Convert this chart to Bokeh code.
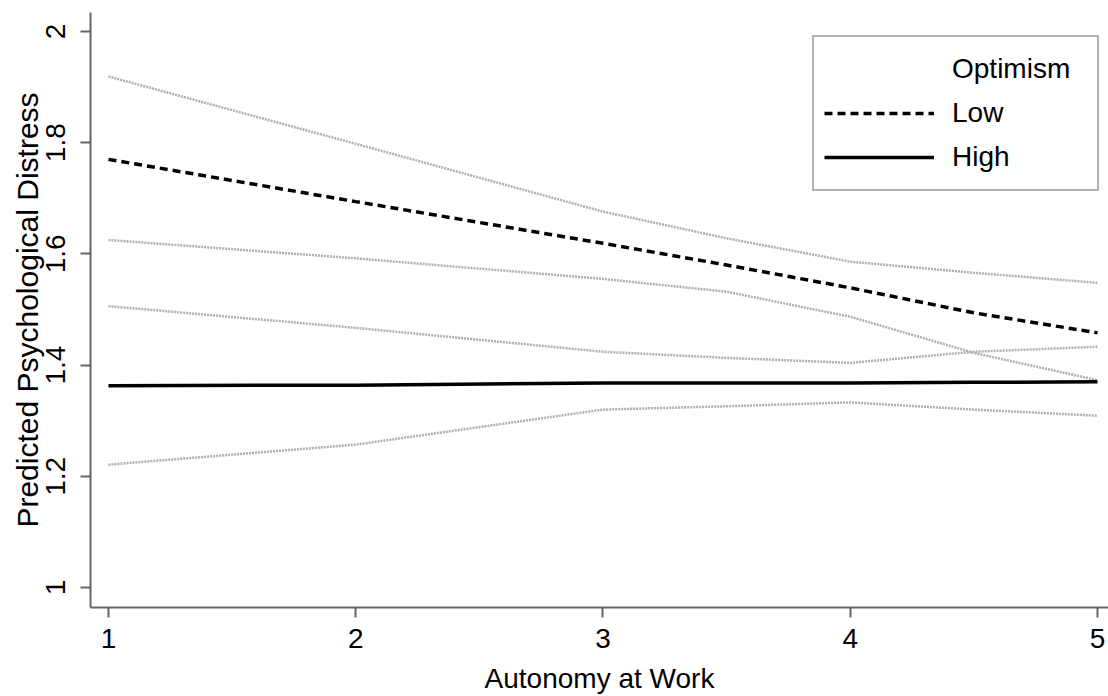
from bokeh.plotting import figure
from bokeh.models import Range1d, FixedTicker, Legend, LegendItem
from bokeh.embed import file_html
from bokeh.resources import INLINE

# ---- data ----
autonomy = [1, 2, 3, 3.5, 4, 4.5, 5]
low_mean = [1.770, 1.694, 1.619, 1.580, 1.539, 1.494, 1.458]
low_upper = [1.919, 1.798, 1.676, 1.628, 1.586, 1.566, 1.548]
low_lower = [1.625, 1.592, 1.555, 1.532, 1.487, 1.422, 1.373]
high_mean = [1.363, 1.364, 1.368, 1.368, 1.368, 1.369, 1.370]
high_upper = [1.506, 1.467, 1.424, 1.413, 1.404, 1.424, 1.433]
high_lower = [1.221, 1.257, 1.320, 1.326, 1.333, 1.320, 1.309]

x_ticks = [1, 2, 3, 4, 5]
y_ticks = [1, 1.2, 1.4, 1.6, 1.8, 2]
y_tick_labels = ["1", "1.2", "1.4", "1.6", "1.8", "2"]

legend_title = "Optimism"
series_names = ["Low", "High"]
x_label = "Autonomy at Work"
y_label = "Predicted Psychological Distress"

FONT = "Liberation Sans"

p = figure(width=1108, height=696, output_backend="svg", toolbar_location=None,
           x_range=Range1d(0.9272, 5.0445), y_range=Range1d(0.9641, 2.0341),
           min_border_left=90, min_border_right=0, min_border_top=12, min_border_bottom=88)
p.outline_line_color = None
p.xgrid.visible = False
p.ygrid.visible = False

ci_color = "#b0b0b0"
for ys in (low_upper, low_lower, high_upper, high_lower):
    p.line(autonomy, ys, line_color=ci_color, line_width=2.5, line_dash="2 1")

r_low = p.line(autonomy, low_mean, line_color="black", line_width=3.5, line_dash="8 5")
r_high = p.line(autonomy, high_mean, line_color="black", line_width=3.5)
r_title = p.line([1, 1], [1, 1], line_alpha=0)

for ax in (p.xaxis[0], p.yaxis[0]):
    ax.axis_line_color = "#666666"
    ax.axis_line_width = 2
    ax.major_tick_line_color = "#666666"
    ax.major_tick_line_width = 2
    ax.major_tick_out = 10
    ax.major_tick_in = 0
    ax.minor_tick_out = 0
    ax.minor_tick_in = 0
    ax.major_label_text_font = FONT
    ax.major_label_text_font_size = "28px"
    ax.major_label_text_color = "black"
    ax.axis_label_text_font = FONT
    ax.axis_label_text_font_style = "normal"
    ax.axis_label_text_color = "black"

p.xaxis.axis_label_text_font_size = "28px"
p.yaxis.axis_label_text_font_size = "30px"
p.xaxis.ticker = FixedTicker(ticks=x_ticks)
p.yaxis.ticker = FixedTicker(ticks=y_ticks)
p.yaxis.major_label_overrides = {t: l for t, l in zip(y_ticks, y_tick_labels)}
p.yaxis.major_label_orientation = "parallel"
p.xaxis.axis_label = x_label
p.yaxis.axis_label = y_label
p.xaxis.major_label_standoff = 11
p.yaxis.major_label_standoff = 15
p.xaxis.axis_label_standoff = 12
p.yaxis.axis_label_standoff = 0

legend = Legend(items=[LegendItem(label=legend_title, renderers=[r_title]),
                       LegendItem(label=series_names[0], renderers=[r_low]),
                       LegendItem(label=series_names[1], renderers=[r_high])],
                location=(722, 416))
legend.border_line_color = "#666666"
legend.border_line_width = 2
legend.padding = 10
legend.spacing = 0
legend.glyph_width = 110
legend.glyph_height = 44
legend.label_height = 44
legend.label_width = 135
legend.label_standoff = 18
legend.label_text_font = FONT
legend.label_text_font_size = "28px"
legend.label_text_color = "black"
legend.background_fill_alpha = 1
p.add_layout(legend)

open("out.html", "w").write(file_html(p, INLINE))
